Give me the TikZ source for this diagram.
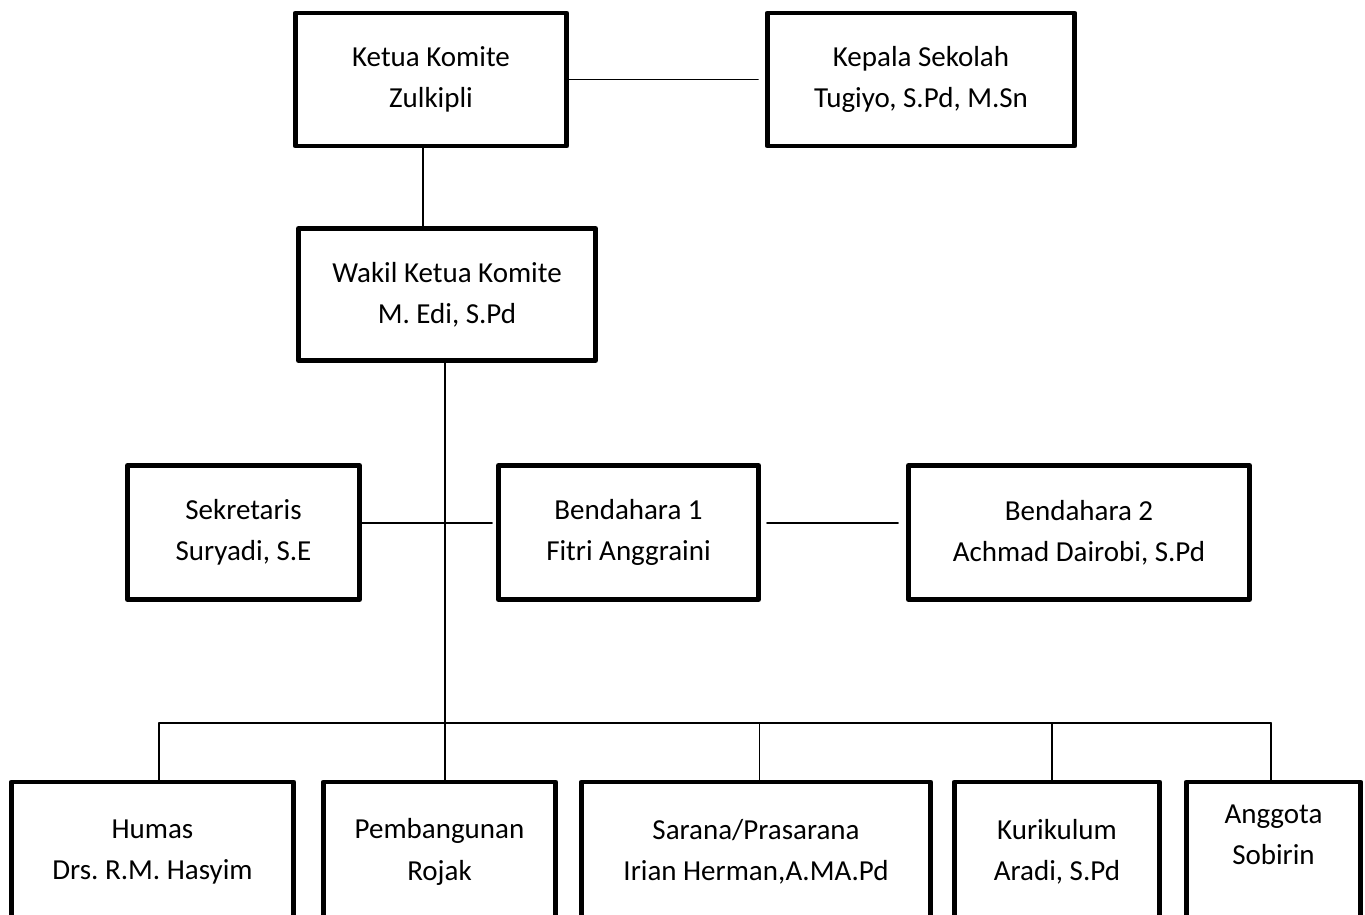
\documentclass[tikz,border=0pt]{standalone}
\usepackage{fontspec}
\setmainfont{Carlito}
\frenchspacing
\begin{document}
\begin{tikzpicture}[x=0.02cm, y=-0.02cm, line join=round, line cap=round,
	kotak/.style={draw, line width=2.8pt, align=center, minimum height=133*\u, font=\fontsize{16.5}{23.5}\selectfont},
	garis/.style={line width=1pt}]
	\def\u{0.02cm} % 1 piksel
	\useasboundingbox (0,0) rectangle (1365,915);
	\clip (0,0) rectangle (1365,915);
	% baris atas
	\node[kotak, minimum width=271*\u] (ketua) at (431,79.5) {Ketua Komite\\Zulkipli};
	\node[kotak, minimum width=307*\u] (kepala) at (921,79.5) {Kepala Sekolah\\Tugiyo, S.Pd, M.Sn};
	\node[kotak, minimum width=297*\u, minimum height=132*\u] (wakil) at (447,294.5) {Wakil Ketua Komite\\M. Edi, S.Pd};
	% sekretaris & bendahara
	\node[kotak, minimum width=232*\u, minimum height=134*\u] (sek) at (243.5,532.5) {Sekretaris\\Suryadi, S.E};
	\node[kotak, minimum width=260*\u, minimum height=134*\u] (bend1) at (628.5,532.5) {Bendahara 1\\Fitri Anggraini};
	\node[kotak, minimum width=341*\u, minimum height=134*\u] (bend2) at (1079,532.5) {Bendahara 2\\Achmad Dairobi, S.Pd};
	% seksi-seksi (bagian bawah terpotong)
	\node[kotak, minimum width=282*\u, minimum height=140*\u] (humas) at (152.5,852) {Humas\\Drs. R.M. Hasyim};
	\node[kotak, minimum width=232*\u, minimum height=140*\u] (pemb) at (439.5,852) {Pembangunan\\Rojak};
	\node[kotak, minimum width=349*\u, minimum height=140*\u] (sarana) at (756,852) {Sarana/Prasarana\\Irian Herman,A.MA.Pd};
	\node[kotak, minimum width=205*\u, minimum height=140*\u] (kurik) at (1057,852) {Kurikulum\\Aradi, S.Pd};
	\node[kotak, minimum width=174*\u, minimum height=140*\u] (anggota) at (1273.5,852) {};
	\node[align=center, font=\fontsize{16.5}{23.5}\selectfont] (anggotatxt) at (1273.5,835) {Anggota\\Sobirin};
	% garis
	\coordinate (kv) at (423,0); \coordinate (bg) at (0,523); \coordinate (tr) at (445,0);
	\coordinate (bkiri) at (159,723); \coordinate (bkanan) at (1271,723);
	\draw[garis] (ketua.east) -- ([xshift=-7*\u]kepala.west);
	\draw[garis] (ketua.south -| kv) -- (wakil.north -| kv);
	\draw[garis] (wakil.south -| tr) -- (pemb.north -| tr);
	\draw[garis] (sek.east |- bg) -- ([xshift=-4*\u]bend1.west |- bg);
	\draw[garis] ([xshift=6*\u]bend1.east |- bg) -- ([xshift=-8*\u]bend2.west |- bg);
	\draw[garis] (bkiri) -- (bkanan);
	\foreach \n/\x in {humas/159, sarana/759.5, kurik/1052, anggota/1271}
		\draw[garis] (\x,723) -- (\n.north -| \x,0);
\end{tikzpicture}
\end{document}
